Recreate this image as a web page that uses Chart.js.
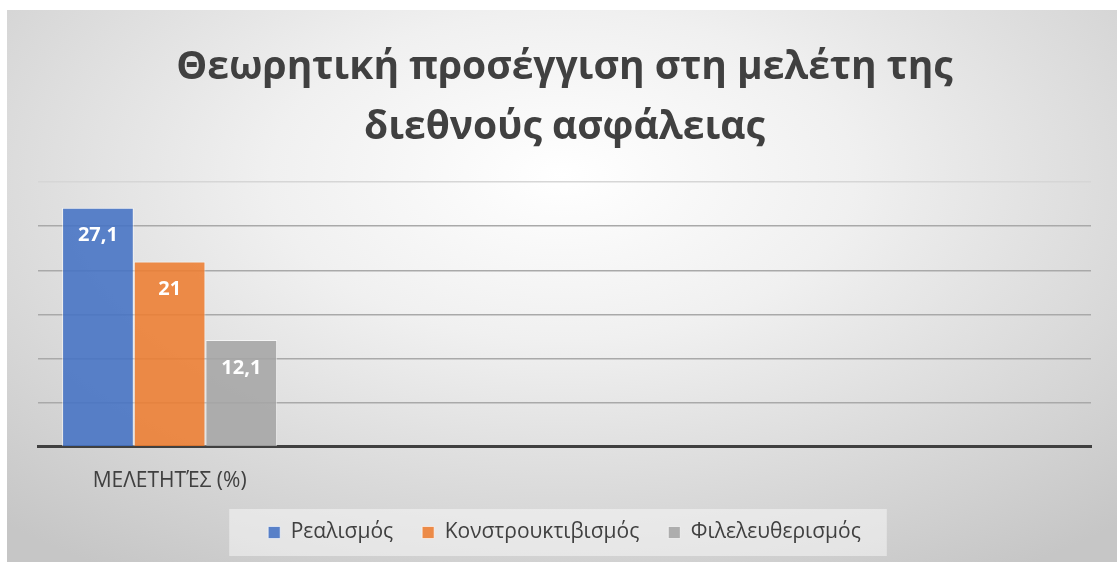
<!DOCTYPE html>
<html>
<head>
<meta charset="utf-8">
<script src="https://cdn.jsdelivr.net/npm/chart.js@4.4.1/dist/chart.umd.min.js"></script>
<style>
  html, body { margin: 0; padding: 0; background: #fff; }
  #frame {
    position: absolute; left: 7px; top: 10px; width: 1110px; height: 552px;
    background: radial-gradient(ellipse 75% 85% at 50% 30%, #ffffff 0%, #f0f0f0 35%, #d6d6d6 75%, #c6c6c6 100%);
  }
  #wrap { position: absolute; left: 0; top: 0; width: 1117px; height: 562px; }
</style>
</head>
<body>
<div id="frame"></div>
<div id="wrap"><canvas id="chart" width="1117" height="562"></canvas></div>
<script>
// data
const categories = ["ΜΕΛΕΤΗΤΈΣ (%)", "", "", ""];
const seriesNames = ["Ρεαλισμός", "Κονστρουκτιβισμός", "Φιλελευθερισμός"];
const realism = [27.1, null, null, null];
const constructivism = [21, null, null, null];
const liberalism = [12.1, null, null, null];
const yMax = 30;
const yStep = 5;

const textColor = "#404040";
const font = "'Open Sans', 'DejaVu Sans', sans-serif";

// white value labels just under the top of each bar
const valueLabels = {
  id: "valueLabels",
  afterDatasetsDraw(chart) {
    const c = chart.ctx;
    c.save();
    c.fillStyle = "#ffffff";
    c.font = "bold 20px " + font;
    c.textAlign = "center";
    c.textBaseline = "middle";
    chart.data.datasets.forEach((ds, i) => {
      chart.getDatasetMeta(i).data.forEach((bar, j) => {
        const v = ds.data[j];
        if (v == null) return;
        c.fillText(String(v).replace(".", ","), bar.x, bar.y + 28);
      });
    });
    c.restore();
  },
};

// pale box behind the legend
const legendBox = {
  id: "legendBox",
  beforeDraw(chart) {
    const boxes = chart.legend && chart.legend.legendHitBoxes;
    if (!boxes || !boxes.length) return;
    const left = Math.min(...boxes.map((b) => b.left));
    const right = Math.max(...boxes.map((b) => b.left + b.width));
    const top = Math.min(...boxes.map((b) => b.top));
    const bottom = Math.max(...boxes.map((b) => b.top + b.height));
    const c = chart.ctx;
    c.save();
    c.fillStyle = "rgba(255,255,255,0.45)";
    c.fillRect(left - 39, top - 13, right - left + 65, bottom - top + 26);
    c.restore();
  },
};

const ctx = document.getElementById("chart").getContext("2d");
const myChart = new Chart(ctx, {
  type: "bar",
  data: {
    labels: categories,
    datasets: [
      {
        label: seriesNames[0],
        data: realism,
        backgroundColor: "rgba(68, 114, 196, 0.88)",
        borderColor: "rgba(255, 255, 255, 0.6)",
        borderWidth: 1,
      },
      {
        label: seriesNames[1],
        data: constructivism,
        backgroundColor: "rgba(237, 125, 49, 0.88)",
        borderColor: "rgba(255, 255, 255, 0.6)",
        borderWidth: 1,
      },
      {
        label: seriesNames[2],
        data: liberalism,
        backgroundColor: "rgba(165, 165, 165, 0.88)",
        borderColor: "rgba(255, 255, 255, 0.6)",
        borderWidth: 1,
      },
    ],
  },
  options: {
    responsive: false,
    animation: false,
    layout: {
      padding: { left: 38, right: 26, top: 0, bottom: 9 },
    },
    datasets: {
      bar: { categoryPercentage: 0.817, barPercentage: 1 },
    },
    scales: {
      x: {
        grid: { display: false },
        border: { display: true, color: "#404040", width: 3 },
        ticks: {
          color: textColor,
          font: { family: font, size: 21 },
          padding: 14,
          maxRotation: 0,
        },
        afterFit(scale) {
          scale.height -= 15;
        },
      },
      y: {
        min: 0,
        max: yMax,
        ticks: { display: false, stepSize: yStep },
        border: { display: false },
        grid: {
          drawTicks: false,
          lineWidth: 1.5,
          color: (c) => (c.tick && c.tick.value === yMax ? "#d6d6d6" : "#a9a9a9"),
        },
      },
    },
    plugins: {
      title: {
        display: true,
        text: ["Θεωρητική προσέγγιση στη μελέτη της", "διεθνούς ασφάλειας"],
        color: textColor,
        font: { family: font, size: 39, weight: "bold", lineHeight: 1.54 },
        padding: { top: 38, bottom: 24 },
      },
      legend: {
        position: "bottom",
        labels: {
          color: textColor,
          font: { family: font, size: 21 },
          boxWidth: 12,
          boxHeight: 12,
          padding: 29,
        },
      },
      tooltip: { enabled: false },
    },
  },
  plugins: [valueLabels, legendBox],
});
</script>
</body>
</html>
